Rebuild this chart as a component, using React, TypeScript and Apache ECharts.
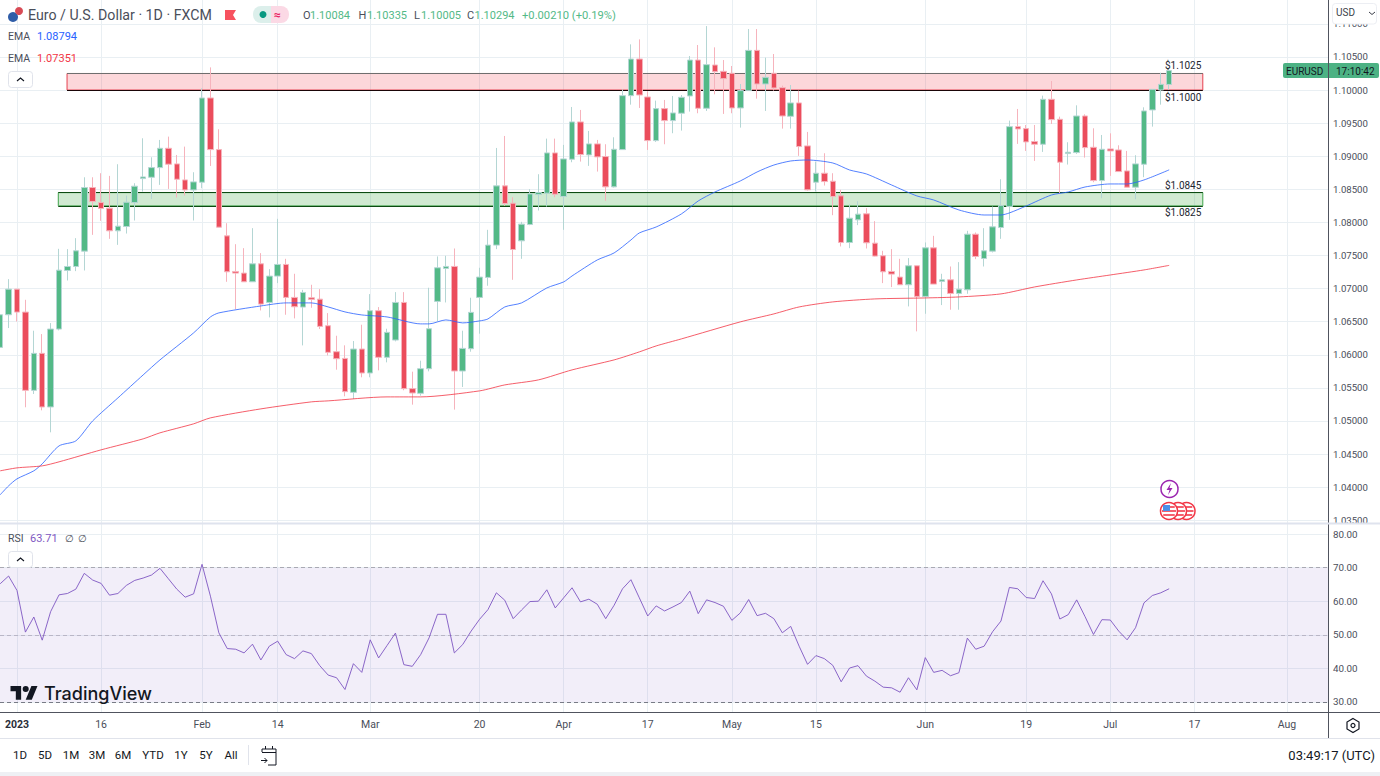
import React, { useEffect, useRef } from "react";
import * as echarts from "echarts";

// bar number: 0 = 2 Jan 2023, one bar per weekday
const tickBars = [0, 10, 22, 31, 42, 55, 65, 75, 85, 95, 108, 120, 130, 140, 151];
const tickLabels = ["2023", "16", "Feb", "14", "Mar", "20", "Apr", "17", "May", "15", "Jun", "19", "Jul", "17", "Aug"];
const priceTicks = [1.035, 1.04, 1.045, 1.05, 1.055, 1.06, 1.065, 1.07, 1.075, 1.08, 1.085, 1.09, 1.095, 1.1, 1.105, 1.11];
const rsiTicks = [30, 40, 50, 60, 70, 80];
const firstBar = -2;

const opens = [
  1.06112, 1.06605, 1.06992, 1.06645, 1.05463, 1.06022, 1.05212, 1.06389, 1.07274, 1.07334,
  1.07566, 1.08527, 1.083, 1.08215, 1.07873, 1.07938, 1.083, 1.08662, 1.08682, 1.08828,
  1.0912, 1.08884, 1.08642, 1.08491, 1.08607, 1.0988, 1.091, 1.07797, 1.07259, 1.07234,
  1.07103, 1.07375, 1.06791, 1.07189, 1.07365, 1.06867, 1.06721, 1.06862, 1.06841, 1.06439,
  1.06047, 1.05946, 1.05433, 1.06087, 1.05725, 1.06666, 1.05962, 1.06223, 1.06791, 1.05489,
  1.05418, 1.0579, 1.06807, 1.07305, 1.07335, 1.05755, 1.06092, 1.06867, 1.07169, 1.07657,
  1.08552, 1.0829, 1.07722, 1.07968, 1.08421, 1.08441, 1.0905, 1.08391, 1.08954, 1.09518,
  1.0902, 1.09186, 1.08995, 1.08537, 1.091, 1.09915, 1.10468, 1.09895, 1.09236, 1.09719,
  1.09538, 1.09649, 1.0991, 1.10453, 1.09724, 1.10378, 1.10282, 1.10252, 1.09729, 1.09991,
  1.10599, 1.10091, 1.10252, 1.10036, 1.09603, 1.09805, 1.09156, 1.08607, 1.08743, 1.08622,
  1.08401, 1.07697, 1.08039, 1.0813, 1.07687, 1.07496, 1.07259, 1.07174, 1.07058, 1.07345,
  1.06882, 1.07616, 1.07108, 1.07133, 1.06927, 1.06982, 1.07822, 1.07455, 1.07566, 1.07923,
  1.0824, 1.09447, 1.09417, 1.09221, 1.09181, 1.0986, 1.09558, 1.0904, 1.09055, 1.09608,
  1.09135, 1.08632, 1.0911, 1.09095, 1.08778, 1.08532, 1.08879, 1.09699, 1.1, 1.10084,
];
const closes = [
  1.06605, 1.06992, 1.06645, 1.05463, 1.06022, 1.05212, 1.06389, 1.07279, 1.07334, 1.07571,
  1.08527, 1.08315, 1.0821, 1.07873, 1.07943, 1.08305, 1.08547, 1.08687, 1.08828, 1.0912,
  1.08879, 1.08652, 1.08491, 1.08612, 1.0988, 1.091, 1.07928, 1.07254, 1.07234, 1.07103,
  1.07375, 1.06766, 1.07189, 1.07365, 1.06867, 1.06726, 1.06942, 1.06836, 1.06429, 1.06037,
  1.05941, 1.05443, 1.06087, 1.05725, 1.06666, 1.05962, 1.06339, 1.06791, 1.05489, 1.05423,
  1.0579, 1.06394, 1.07315, 1.07335, 1.05755, 1.06097, 1.06641, 1.07174, 1.07657, 1.08552,
  1.08285, 1.07591, 1.07974, 1.08431, 1.08451, 1.0905, 1.08426, 1.08959, 1.09518, 1.09025,
  1.09186, 1.0899, 1.08537, 1.09105, 1.09915, 1.10468, 1.09925, 1.09236, 1.09719, 1.09538,
  1.09654, 1.0989, 1.10453, 1.09724, 1.10383, 1.10277, 1.10172, 1.09729, 1.09991, 1.10599,
  1.10091, 1.10192, 1.10031, 1.09608, 1.09805, 1.09146, 1.08492, 1.08743, 1.08617, 1.08391,
  1.07697, 1.08064, 1.08125, 1.07692, 1.07491, 1.07254, 1.07219, 1.07058, 1.07345, 1.06882,
  1.07616, 1.07068, 1.07133, 1.06927, 1.06992, 1.07822, 1.07485, 1.07571, 1.07933, 1.08255,
  1.09447, 1.09412, 1.09216, 1.09181, 1.0986, 1.09553, 1.08909, 1.0906, 1.09608, 1.0913,
  1.08632, 1.09105, 1.0908, 1.08768, 1.08532, 1.08884, 1.09684, 1.1001, 1.10086, 1.10294,
];
const lows = [
  1.06, 1.06404, 1.06504, 1.05207, 1.05408, 1.05161, 1.04829, 1.06369, 1.07123, 1.07264,
  1.07274, 1.07812, 1.08024, 1.07752, 1.07661, 1.07832, 1.08029, 1.08466, 1.08355, 1.08567,
  1.08506, 1.08376, 1.08406, 1.08029, 1.08516, 1.08853, 1.07928, 1.07103, 1.06691, 1.07103,
  1.07103, 1.0667, 1.06565, 1.07083, 1.06605, 1.0655, 1.06142, 1.06711, 1.06389, 1.05991,
  1.05775, 1.05373, 1.05333, 1.0566, 1.0566, 1.05765, 1.05886, 1.06203, 1.05464, 1.05247,
  1.05383, 1.0575, 1.06505, 1.06791, 1.05172, 1.05514, 1.06047, 1.06319, 1.07043, 1.07596,
  1.0825, 1.07133, 1.0745, 1.07958, 1.0818, 1.0824, 1.08381, 1.07888, 1.08909, 1.08919,
  1.08854, 1.08768, 1.08326, 1.08527, 1.091, 1.09779, 1.09729, 1.09095, 1.09216, 1.09181,
  1.09347, 1.09387, 1.09674, 1.09649, 1.09684, 1.09935, 1.09639, 1.09649, 1.09432, 1.09991,
  1.0987, 1.09684, 1.09991, 1.09417, 1.09417, 1.09005, 1.08482, 1.08467, 1.08557, 1.08109,
  1.07637, 1.07611, 1.07959, 1.07606, 1.07486, 1.07083, 1.07023, 1.07058, 1.06731, 1.06354,
  1.0662, 1.07068, 1.06751, 1.06681, 1.06681, 1.06922, 1.07445, 1.07334, 1.07546, 1.07752,
  1.08039, 1.09186, 1.0908, 1.08929, 1.09065, 1.09487, 1.08431, 1.08874, 1.09035, 1.08979,
  1.08607, 1.08366, 1.08703, 1.08768, 1.08532, 1.08351, 1.08683, 1.09447, 1.09779, 1.10005,
];
const highs = [
  1.067, 1.07143, 1.06992, 1.06831, 1.06364, 1.06313, 1.06479, 1.07601, 1.07596, 1.07762,
  1.08682, 1.08682, 1.08743, 1.08703, 1.08879, 1.08406, 1.08592, 1.09271, 1.08984, 1.09246,
  1.09296, 1.09019, 1.09145, 1.08758, 1.10025, 1.10342, 1.09407, 1.07988, 1.07671, 1.07611,
  1.07913, 1.07536, 1.07294, 1.08054, 1.0745, 1.07224, 1.06982, 1.07058, 1.06992, 1.0663,
  1.06288, 1.06143, 1.06208, 1.06454, 1.06917, 1.06721, 1.06394, 1.06947, 1.06947, 1.05745,
  1.05911, 1.07013, 1.07486, 1.07496, 1.07606, 1.06364, 1.06862, 1.07315, 1.07888, 1.09125,
  1.09306, 1.08381, 1.08009, 1.08502, 1.08728, 1.09266, 1.09266, 1.09171, 1.09744, 1.09699,
  1.09382, 1.09246, 1.09181, 1.09286, 1.10011, 1.1069, 1.10765, 1.0998, 1.0984, 1.0985,
  1.0991, 1.09925, 1.10514, 1.1068, 1.10966, 1.10645, 1.10453, 1.10363, 1.10091, 1.10921,
  1.10921, 1.10489, 1.10544, 1.10066, 1.10076, 1.09991, 1.09367, 1.08919, 1.09045, 1.08743,
  1.08492, 1.08275, 1.08321, 1.08215, 1.08019, 1.07571, 1.07596, 1.0745, 1.07461, 1.07345,
  1.07697, 1.07797, 1.07224, 1.07334, 1.074, 1.07873, 1.07848, 1.07913, 1.0824, 1.08652,
  1.09538, 1.09714, 1.09472, 1.09472, 1.09915, 1.10136, 1.09598, 1.09211, 1.09769, 1.09633,
  1.09422, 1.09321, 1.09346, 1.09165, 1.0908, 1.09015, 1.09739, 1.10015, 1.10262, 1.10335,
];

const ema50Bars = [-2, -1, 0, 2, 3, 5, 7, 9, 12, 15, 17, 21, 23, 24, 29, 32, 35, 37, 39, 41, 44, 48, 49, 51, 53, 55, 56, 58, 60, 63, 65, 66, 69, 71, 73, 74, 76, 79, 81, 83, 86, 88, 90, 92, 94, 97, 99, 101, 104, 107, 109, 112, 115, 117, 118, 120, 123, 125, 127, 130, 132, 134, 137];
const ema50Values = [1.03885, 1.0402, 1.04126, 1.04247, 1.04353, 1.04624, 1.047, 1.05002, 1.05349, 1.05696, 1.05923, 1.06331, 1.06572, 1.06633, 1.06738, 1.06784, 1.06784, 1.06723, 1.06648, 1.06602, 1.06572, 1.06467, 1.06467, 1.06527, 1.06482, 1.06512, 1.06542, 1.06723, 1.06784, 1.0701, 1.07101, 1.07191, 1.07433, 1.07539, 1.07735, 1.07841, 1.07931, 1.08128, 1.08324, 1.0846, 1.08626, 1.08762, 1.08867, 1.08928, 1.08943, 1.08898, 1.08792, 1.08732, 1.08565, 1.084, 1.08339, 1.08188, 1.08112, 1.08112, 1.08143, 1.08248, 1.08414, 1.0846, 1.08535, 1.08581, 1.08581, 1.08641, 1.08794];
const ema200Bars = [-2, 0, 3, 5, 10, 15, 17, 21, 23, 29, 35, 37, 44, 48, 55, 58, 62, 66, 71, 74, 76, 79, 86, 90, 93, 97, 102, 108, 112, 117, 121, 126, 130, 134, 137];
const ema200Values = [1.04247, 1.04292, 1.04322, 1.04383, 1.04564, 1.0473, 1.04821, 1.04957, 1.05047, 1.05183, 1.05289, 1.05304, 1.05364, 1.05364, 1.05455, 1.05545, 1.05621, 1.05772, 1.05923, 1.06044, 1.06134, 1.0624, 1.06497, 1.06618, 1.06723, 1.06799, 1.06844, 1.06859, 1.06874, 1.0692, 1.07025, 1.07131, 1.07206, 1.07282, 1.07351];
const rsiValues = [
  65.2, 67.5, 63.2, 50.8, 55.3, 48.4, 56.9, 61.9, 62.3, 63.6,
  68.3, 66.3, 65.3, 61.8, 62.3, 64.7, 66.2, 66.9, 67.8, 69.8,
  66.7, 63.6, 61.2, 62.2, 71.0, 61.5, 50.6, 45.9, 45.7, 44.6,
  47.2, 42.5, 46.6, 48.1, 44.1, 42.9, 45.2, 44.4, 40.8, 38.0,
  37.2, 33.7, 41.4, 38.8, 48.5, 43.1, 46.8, 50.5, 41.1, 40.6,
  44.1, 49.1, 56.1, 56.1, 44.6, 47.1, 51.1, 54.6, 57.5, 62.5,
  60.3, 54.8, 57.4, 59.9, 60.0, 63.4, 58.0, 61.0, 64.0, 59.8,
  60.6, 59.1, 54.8, 58.8, 63.7, 66.4, 61.0, 55.6, 58.6, 57.1,
  58.3, 59.6, 63.0, 56.3, 60.4, 59.6, 58.5, 54.3, 56.5, 60.5,
  55.7, 56.4, 54.8, 50.6, 52.5, 46.6, 41.2, 43.8, 42.9, 40.9,
  36.0, 40.1, 40.8, 37.7, 36.2, 34.4, 34.2, 32.9, 37.2, 33.6,
  43.2, 38.8, 39.4, 37.8, 38.7, 49.0, 45.7, 46.6, 50.9, 54.1,
  64.1, 63.7, 61.1, 60.8, 66.1, 62.2, 54.7, 56.0, 60.4, 55.4,
  50.1, 54.5, 54.4, 51.1, 48.5, 52.1, 59.5, 61.7, 62.5, 63.71,
];
const resistance = [1.1, 1.1025];
const support = [1.0825, 1.0845];
const rangeButtons = ["1D", "5D", "1M", "3M", "6M", "YTD", "1Y", "5Y", "All"];
const rangeButtonX = [20, 45, 71, 97, 123, 153, 181, 206, 231];

const GREEN = "#53b987";
const RED = "#eb4d5c";
const GRID = "#e9eff3";
const AXIS = "#50535e";
const TEXT = "#4a4e5a";
const FONT = "Roboto, sans-serif";

echarts.graphic.registerShape(
  "tvmark",
  echarts.graphic.extendPath("M14 22H7V11H0V4h14v18zM28 22h-8l7.5-18h8L28 22zM24 8a4 4 0 1 1-8 0a4 4 0 1 1 8 0z", {}) as any
);

function label(x: number, y: number, text: string, fill = TEXT, size = 11, extra: any = {}) {
  return {
    type: "text", x, y, z: 60, silent: true,
    style: { text, fill, fontSize: size, fontFamily: FONT, verticalAlign: "middle", textVerticalAlign: "middle", ...extra },
  };
}
function hLine(x1: number, x2: number, y: number, stroke: string, w = 1) {
  return { type: "line", z: 55, silent: true, shape: { x1, y1: y, x2, y2: y }, style: { stroke, lineWidth: w } };
}
function vLine(x: number, y1: number, y2: number, stroke: string, w = 1) {
  return { type: "line", z: 55, silent: true, shape: { x1: x, y1, x2: x, y2 }, style: { stroke, lineWidth: w } };
}
function chevronButton(x: number, y: number) {
  return [
    { type: "rect", z: 56, silent: true, shape: { x: x + 0.5, y: y + 0.5, width: 24, height: 16, r: 3 }, style: { fill: "#fff", stroke: "#e0e3eb", lineWidth: 1 } },
    { type: "polyline", z: 57, silent: true, shape: { points: [[x + 9, y + 10], [x + 12.5, y + 7], [x + 16, y + 10]] }, style: { stroke: "#131722", fill: "none", lineWidth: 1.2 } },
  ];
}
function usFlag(cx: number, cy: number, canton: boolean) {
  const out: any[] = [
    { type: "circle", z: 56, silent: true, shape: { cx, cy, r: 8.5 }, style: { fill: "#fff", stroke: "#f23645", lineWidth: 1.5 } },
  ];
  [-4, 0, 4].forEach((d) => {
    const half = Math.sqrt(Math.max(0, 49 - d * d));
    out.push({ type: "rect", z: 56, silent: true, shape: { x: cx - half, y: cy + d - 1, width: half * 2, height: 2 }, style: { fill: "#f4606e" } });
  });
  if (canton) out.push({ type: "rect", z: 56, silent: true, shape: { x: cx - 6, y: cy - 6, width: 7, height: 6 }, style: { fill: "#4c8fe8" } });
  return out;
}

const zoneLines = (y: number, left: number, right: number, stroke: string) => [
  { coord: [left, y], lineStyle: { color: stroke, width: 1, type: "solid" } },
  { coord: [right, y] },
];

export default function App() {
  const ref = useRef<HTMLDivElement>(null);
  useEffect(() => {
    document.body.style.margin = "0";
    const chart = echarts.init(ref.current!, undefined, { renderer: "svg" });
    const bars = opens.map((_, i) => i + firstBar);
    const leftRed = 5.95, leftGreen = 4.91, right = 141;

    const graphic: any[] = [
      { type: "rect", z: 54, silent: true, shape: { x: 1329, y: 523, width: 51, height: 8 }, style: { fill: "#fff" } },
      hLine(0, 1380, 523.5, "#dfe3ee", 2),
      hLine(1328, 1380, 712.5, AXIS),
      vLine(1328.5, 712, 738, AXIS),
      hLine(0, 1380, 738.5, "#e0e3eb"),
      { type: "rect", z: 55, silent: true, shape: { x: 0, y: 772, width: 1380, height: 4 }, style: { fill: "#eef0f4" } },
      { type: "rect", z: 56, silent: true, shape: { x: 1332.5, y: 3.5, width: 44, height: 20.5, r: 3 }, style: { fill: "#fff", stroke: "#eceef3", lineWidth: 1 } },
      label(1336, 12.5, "USD", "#3c3f4a", 10),
      { type: "polyline", z: 57, silent: true, shape: { points: [[1369, 12], [1372, 14.5], [1375, 12]] }, style: { stroke: "#3c3f4a", fill: "none", lineWidth: 1 } },
      { type: "circle", z: 56, silent: true, shape: { cx: 13, cy: 17, r: 5 }, style: { fill: "#2f5da8" } },
      { type: "circle", z: 56, silent: true, shape: { cx: 19, cy: 11, r: 4 }, style: { fill: "#d84a55" } },
      label(28, 15, "Euro / U.S. Dollar · 1D · FXCM", TEXT, 14.2),
      { type: "polygon", z: 56, silent: true, shape: { points: [[225, 10], [236, 10], [233, 15], [236, 20], [225, 20]] }, style: { fill: "#f7525f" } },
      { type: "rect", z: 56, silent: true, shape: { x: 253, y: 6, width: 18, height: 17, r: [8, 0, 0, 8] }, style: { fill: "#dcefeb" } },
      { type: "rect", z: 56, silent: true, shape: { x: 271, y: 6, width: 18, height: 17, r: [0, 8, 8, 0] }, style: { fill: "#fbd9e5" } },
      { type: "circle", z: 57, silent: true, shape: { cx: 263, cy: 14.5, r: 3.5 }, style: { fill: "#089981" } },
      label(274, 15, "≈", "#e91e63", 12, { fontWeight: "bold" }),
      label(303, 15.5, "O", TEXT),
      label(310, 15.5, "1.10084", GREEN),
      label(358.5, 15.5, "H", TEXT),
      label(367, 15.5, "1.10335", GREEN),
      label(414, 15.5, "L", TEXT),
      label(421, 15.5, "1.10005", GREEN),
      label(467, 15.5, "C", TEXT),
      label(474.5, 15.5, "1.10294", GREEN),
      label(522, 15.5, "+0.00210 (+0.19%)", GREEN, 11.2),
      label(8, 36, "EMA", TEXT, 10.5),
      label(37, 36, "1.08794", "#2962ff", 11),
      label(8, 58, "EMA", TEXT, 10.5),
      label(37, 58, "1.07351", "#f23645", 11),
      ...chevronButton(8, 71),
      label(8, 538, "RSI", TEXT, 10.5),
      label(30, 538, "63.71", "#7e57c2", 11),
      label(65, 538, "∅", TEXT, 10),
      label(78, 538, "∅", TEXT, 10),
      ...chevronButton(8, 551),
      label(1165, 65, "$1.1025", "#222631", 10),
      label(1165, 97, "$1.1000", "#222631", 10),
      label(1165, 185, "$1.0845", "#222631", 10),
      label(1165, 212, "$1.0825", "#222631", 10),
      { type: "rect", z: 56, silent: true, shape: { x: 1283, y: 63, width: 45, height: 15, r: [2, 0, 0, 2] }, style: { fill: "#4db284" } },
      label(1286, 71, "EURUSD", "#131722", 10),
      { type: "rect", z: 56, silent: true, shape: { x: 1329, y: 63, width: 50, height: 15, r: [0, 2, 2, 0] }, style: { fill: "#4db284" } },
      label(1336, 71, "17:10:42", "#131722", 10),
      { type: "circle", z: 56, silent: true, shape: { cx: 1169.5, cy: 489, r: 8.5 }, style: { fill: "#fff", stroke: "#9c27b0", lineWidth: 1.5 } },
      { type: "polygon", z: 57, silent: true, shape: { points: [[1171, 483], [1166.5, 490], [1169.5, 490], [1168, 495], [1172.5, 488], [1169.5, 488]] }, style: { fill: "#9c27b0" } },
      ...usFlag(1186.5, 511, false),
      ...usFlag(1178, 511, false),
      ...usFlag(1169, 511, true),
      { type: "tvmark", z: 60, silent: true, x: 10.5, y: 683, scaleX: 0.76, scaleY: 0.76, style: { fill: "#131722" } },
      label(44, 693.5, "TradingView", "#131722", 18, { fontFamily: "Inter, sans-serif", fontWeight: 500 }),
      { type: "polygon", z: 56, silent: true, shape: { points: [[1353, 718.5], [1359, 722], [1359, 729], [1353, 732.5], [1347, 729], [1347, 722]] }, style: { fill: "none", stroke: "#131722", lineWidth: 1.2 } },
      { type: "circle", z: 56, silent: true, shape: { cx: 1353, cy: 725.5, r: 2 }, style: { fill: "none", stroke: "#131722", lineWidth: 1.2 } },
      ...rangeButtons.map((b, i) => label(rangeButtonX[i], 755, b, "#131722", 11.5, { textAlign: "center" })),
      vLine(248.5, 745, 765, "#e0e3eb"),
      { type: "polyline", z: 56, silent: true, shape: { points: [[262, 752], [262, 749], [276, 749], [276, 765], [268, 765]] }, style: { stroke: "#131722", fill: "none", lineWidth: 1 } },
      hLine(262, 276, 752.5, "#131722"),
      vLine(265.5, 746, 749, "#131722"),
      vLine(272.5, 746, 749, "#131722"),
      { type: "polyline", z: 56, silent: true, shape: { points: [[261, 760.5], [267, 760.5]] }, style: { stroke: "#131722", fill: "none", lineWidth: 1 } },
      { type: "polyline", z: 56, silent: true, shape: { points: [[264.5, 758], [267, 760.5], [264.5, 763]] }, style: { stroke: "#131722", fill: "none", lineWidth: 1 } },
      label(1375, 755, "03:49:17 (UTC)", "#131722", 13, { textAlign: "right" }),
    ];

    chart.setOption({
      animation: false,
      backgroundColor: "#fff",
      textStyle: { fontFamily: FONT },
      grid: [
        { left: 0, right: 52, top: 0, height: 523 },
        { left: 0, right: 52, top: 524, height: 188 },
      ],
      xAxis: [
        {
          gridIndex: 0, type: "value", min: -2.0214, max: 155.886,
          axisLine: { show: false },
          axisTick: { show: false, customValues: tickBars },
          axisLabel: { show: false, customValues: tickBars },
          splitLine: { show: true, lineStyle: { color: GRID, width: 1 } },
        },
        {
          gridIndex: 1, type: "value", min: -2.0214, max: 155.886,
          axisLine: { show: true, onZero: false, lineStyle: { color: AXIS, width: 1 } },
          axisTick: { show: false, customValues: tickBars },
          axisLabel: {
            show: true, customValues: tickBars, margin: 7, fontSize: 10.5, color: TEXT, fontFamily: FONT,
            hideOverlap: false,
            formatter: (v: number) => {
              const s = tickLabels[tickBars.indexOf(v)] ?? "";
              return s === "2023" ? "{y|2023}" : s;
            },
            rich: { y: { fontWeight: "bold", fontSize: 10.5, color: "#2a2e39", fontFamily: FONT } },
          },
          splitLine: { show: true, lineStyle: { color: GRID, width: 1 } },
        },
      ],
      yAxis: [
        {
          gridIndex: 0, type: "value", position: "right", min: 1.03459, max: 1.1136, scale: true,
          axisLine: { show: true, onZero: false, lineStyle: { color: AXIS, width: 1 } },
          axisTick: { show: false, customValues: priceTicks },
          axisLabel: { customValues: priceTicks, margin: 5, fontSize: 9.6, color: TEXT, fontFamily: FONT, formatter: (v: number) => v.toFixed(5) },
          splitLine: { show: true, lineStyle: { color: GRID, width: 1 } },
        },
        {
          gridIndex: 1, type: "value", position: "right", min: 27, max: 83,
          axisLine: { show: true, onZero: false, lineStyle: { color: AXIS, width: 1 } },
          axisTick: { show: false, customValues: rsiTicks },
          axisLabel: { customValues: rsiTicks, margin: 5, fontSize: 9.8, color: TEXT, fontFamily: FONT, formatter: (v: number) => v.toFixed(2) },
          splitLine: { show: true, lineStyle: { color: GRID, width: 1 } },
        },
      ],
      series: [
        {
          type: "candlestick", xAxisIndex: 0, yAxisIndex: 0, name: "EURUSD", barWidth: 6,
          z: 3,
          itemStyle: { color: GREEN, color0: RED, borderColor: "#b4d6d4", borderColor0: "#f6b3bc", borderWidth: 1 },
          data: bars.map((b, i) => [b, opens[i], closes[i], lows[i], highs[i]]),
          encode: { x: 0, y: [1, 2, 3, 4] },
          markArea: {
            silent: true, z: 1,
            data: [
              [
                { coord: [leftRed, resistance[1]], itemStyle: { color: "rgba(242,54,69,0.2)", borderColor: "#e5404f", borderWidth: 1 } },
                { coord: [right, resistance[0]] },
              ],
              [
                { coord: [leftGreen, support[1]], itemStyle: { color: "rgba(76,175,80,0.26)", borderColor: "#3fa34a", borderWidth: 1 } },
                { coord: [right, support[0]] },
              ],
            ],
          },
          markLine: {
            silent: true, z: 1, symbol: "none", label: { show: false },
            lineStyle: { type: "solid" },
            data: [
              zoneLines(resistance[1], leftRed, right, "#6e6e6e"),
              zoneLines(resistance[0], leftRed, right, "#1a0507"),
              zoneLines(support[1], leftGreen, right, "#0d4a12"),
              zoneLines(support[0], leftGreen, right, "#0d4a12"),
            ],
          },
        },
        {
          type: "line", xAxisIndex: 0, yAxisIndex: 0, name: "EMA 50", symbol: "none", z: 4, smooth: 0.25,
          lineStyle: { color: "#2962ff", width: 1, opacity: 0.8 },
          data: ema50Bars.map((b, i) => [b, ema50Values[i]]),
        },
        {
          type: "line", xAxisIndex: 0, yAxisIndex: 0, name: "EMA 200", symbol: "none", z: 4, smooth: 0.25,
          lineStyle: { color: "#f23645", width: 1, opacity: 0.8 },
          data: ema200Bars.map((b, i) => [b, ema200Values[i]]),
        },
        {
          type: "line", xAxisIndex: 1, yAxisIndex: 1, name: "RSI", symbol: "none", z: 4,
          lineStyle: { color: "#7e57c2", width: 1, opacity: 0.9 },
          data: bars.map((b, i) => [b, rsiValues[i]]),
          markArea: {
            silent: true, z: 1,
            itemStyle: { color: "rgba(126,87,194,0.1)" },
            data: [[{ yAxis: 70 }, { yAxis: 30 }]],
          },
          markLine: {
            silent: true, z: 2, symbol: "none", label: { show: false },
            data: [
              { yAxis: 70, lineStyle: { color: "#a9a9b3", type: [4, 3], width: 1 } },
              { yAxis: 50, lineStyle: { color: "#b9b6c6", type: [4, 3], width: 1 } },
              { yAxis: 30, lineStyle: { color: "#787b86", type: [4, 3], width: 1 } },
            ],
          },
        },
      ],
      graphic,
    });
    return () => chart.dispose();
  }, []);
  return <div ref={ref} style={{ position: "fixed", left: 0, top: 0, width: 1380, height: 776 }} />;
}
